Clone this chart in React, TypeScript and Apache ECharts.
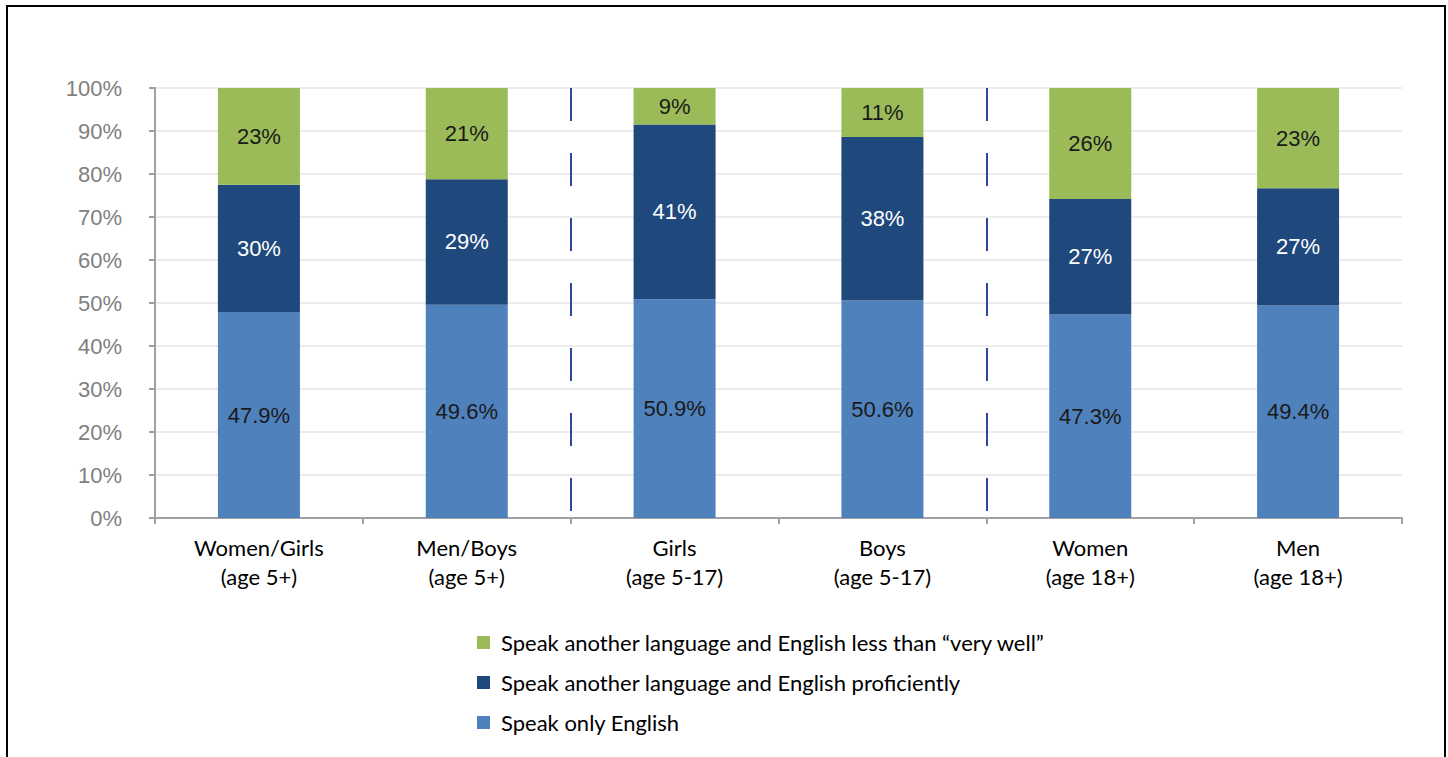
import React, { useEffect, useRef } from "react";
import * as echarts from "echarts";

const categories = [
  "Women/Girls\n(age 5+)",
  "Men/Boys\n(age 5+)",
  "Girls\n(age 5-17)",
  "Boys\n(age 5-17)",
  "Women\n(age 18+)",
  "Men\n(age 18+)",
];
const onlyEnglish = [47.9, 49.6, 50.9, 50.6, 47.3, 49.4];
const proficient = [29.6, 29.2, 40.6, 38.0, 26.9, 27.3];
const lessThanVeryWell = [22.5, 21.2, 8.5, 11.4, 25.8, 23.3];
const seriesNames = [
  "Speak only English",
  "Speak another language and English proficiently",
  "Speak another language and English less than \u201cvery well\u201d",
];
const groupDividers = [2, 4];

export default function App() {
  const ref = useRef<HTMLDivElement>(null);
  useEffect(() => {
    if (!ref.current) return;
    const chart = echarts.init(ref.current, undefined, { renderer: "svg" });
    const axisFont = "'Liberation Sans', Arial, sans-serif";
    const textFont = "Lato, 'Noto Sans', sans-serif";
    const barLabel = (color: string, decimals: number) => ({
      show: true,
      position: "inside" as const,
      color,
      fontFamily: axisFont,
      fontSize: 22,
      formatter: (p: any) =>
        (decimals > 0 ? Number(p.value).toFixed(decimals) : String(Math.round(p.value))) + "%",
    });
    chart.setOption({
      animation: false,
      backgroundColor: "#ffffff",
      grid: { left: 155, right: 46, top: 88, bottom: 239, containLabel: false },
      graphic: [
        {
          type: "polyline",
          shape: { points: [[7, 800], [7, 6], [1445, 6], [1445, 800]] },
          style: { stroke: "#000000", lineWidth: 2, fill: "none" },
          silent: true,
        },
      ],
      legend: {
        orient: "vertical",
        left: 472,
        top: 626,
        itemWidth: 13,
        itemHeight: 13,
        itemGap: 17,
        icon: "rect",
        data: [seriesNames[2], seriesNames[1], seriesNames[0]],
        textStyle: {
          fontFamily: textFont,
          fontSize: 22,
          color: "#000000",
          lineHeight: 23,
          padding: [0, 0, 0, 6],
        },
      },
      xAxis: [
        {
          type: "category",
          data: categories,
          axisLine: { lineStyle: { color: "#a0a0a0", width: 2 } },
          axisTick: { show: true, length: 6, lineStyle: { color: "#a0a0a0", width: 2 } },
          axisLabel: {
            color: "#000000",
            fontFamily: textFont,
            fontSize: 22,
            lineHeight: 29,
            margin: 15,
          },
        },
        { type: "value", min: 0, max: 6, show: false },
      ],
      yAxis: {
        type: "value",
        min: 0,
        max: 100,
        interval: 10,
        axisLine: { show: true, lineStyle: { color: "#a0a0a0", width: 2 } },
        axisTick: { show: true, length: 6, lineStyle: { color: "#a0a0a0", width: 2 } },
        splitLine: { lineStyle: { color: "#ececec", width: 2 } },
        axisLabel: {
          formatter: "{value}%",
          color: "#808080",
          fontFamily: axisFont,
          fontSize: 22,
          margin: 33,
        },
      },
      series: [
        {
          name: seriesNames[0],
          type: "bar",
          stack: "total",
          barWidth: 82,
          data: onlyEnglish,
          itemStyle: { color: "#4F81BD" },
          label: barLabel("#1a1a1a", 1),
        },
        {
          name: seriesNames[1],
          type: "bar",
          stack: "total",
          barWidth: 82,
          data: proficient,
          itemStyle: { color: "#1F497D" },
          label: barLabel("#ffffff", 0),
        },
        {
          name: seriesNames[2],
          type: "bar",
          stack: "total",
          barWidth: 82,
          data: lessThanVeryWell,
          itemStyle: { color: "#9BBB59" },
          label: barLabel("#1a1a1a", 0),
        },
        {
          name: "dividers",
          type: "line",
          xAxisIndex: 1,
          yAxisIndex: 0,
          data: [],
          symbol: "none",
          markLine: {
            silent: true,
            symbol: ["none", "none"],
            label: { show: false },
            lineStyle: { color: "#2B47A0", width: 2, type: [33, 32] },
            data: groupDividers.map((x) => [
              { coord: [x, 100] },
              { coord: [x, 0] },
            ]),
          },
        },
      ],
    });
    return () => chart.dispose();
  }, []);
  return (
    <div
      ref={ref}
      style={{ position: "fixed", left: 0, top: 0, width: 1448, height: 757 }}
    />
  );
}
